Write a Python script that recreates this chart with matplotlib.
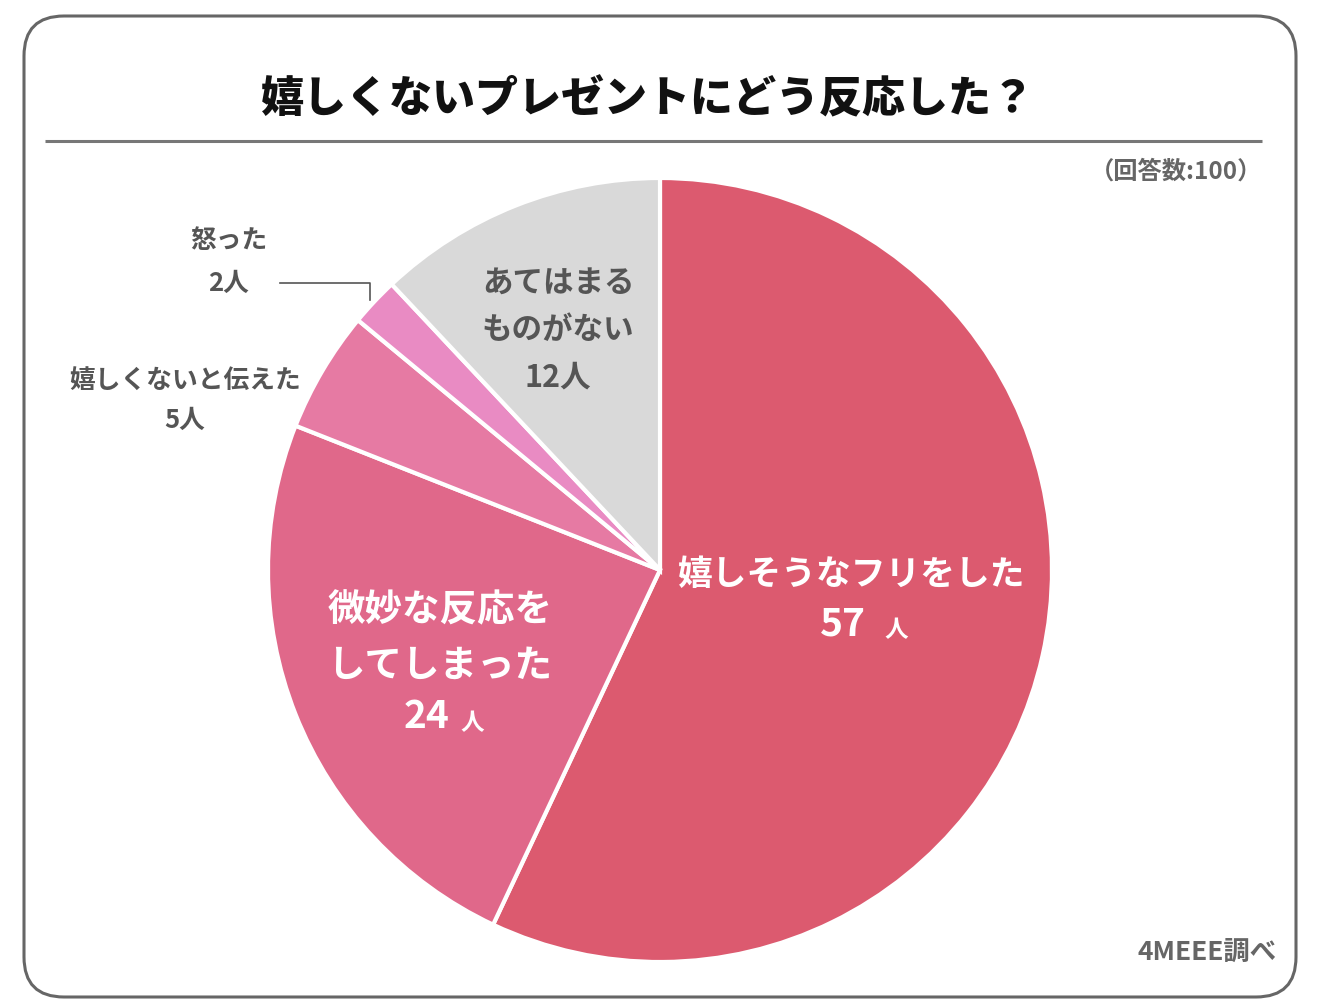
import matplotlib
matplotlib.use("Agg")
import matplotlib.pyplot as plt
from matplotlib.patches import FancyBboxPatch

plt.rcParams["font.family"] = ["Noto Sans CJK JP", "DejaVu Sans"]

# data
labels = ["嬉しそうなフリをした", "微妙な反応をしてしまった", "嬉しくないと伝えた", "怒った", "あてはまるものがない"]
counts = [57, 24, 5, 2, 12]
colors = ["#dc5a6f", "#e0688a", "#e67aa3", "#e98bc3", "#d9d9d9"]
title = "嬉しくないプレゼントにどう反応した？"
n_note = "（回答数:100）"
source = "4MEEE調べ"

W, H = 1320, 1000
fig = plt.figure(figsize=(W / 100, H / 100), dpi=100)
ax = fig.add_axes([0, 0, 1, 1])


def Y(y):
    # pixel-from-top to data y
    return H - y


# frame
box = FancyBboxPatch((24, Y(997)), 1272, 981, boxstyle="round,pad=0,rounding_size=40",
                     fc="white", ec="#666666", lw=2.2, zorder=0)
ax.add_patch(box)
ax.plot([45, 1262], [Y(141), Y(141)], color="#777777", lw=2.2, solid_capstyle="butt")

ax.text(648, Y(100), title, ha="center", va="center", fontsize=31, fontweight="heavy", color="#111111")
ax.text(1262, Y(172), n_note, ha="right", va="center", fontsize=17.5, fontweight="bold", color="#666666")
ax.text(1277, Y(953), source, ha="right", va="center", fontsize=19, fontweight="bold", color="#666666")

# pie
ax.pie(counts, colors=colors, startangle=90, counterclock=False,
       center=(660, Y(570)), radius=392, frame=True,
       wedgeprops=dict(edgecolor="white", linewidth=3))

# labels
ax.text(852, Y(575), labels[0], ha="center", va="center", fontsize=25, fontweight="bold", color="white")
ax.text(866, Y(624), f"{counts[0]}", ha="right", va="center", fontsize=28, fontweight="bold", color="white")
ax.text(884, Y(630), "人", ha="left", va="center", fontsize=17, fontweight="bold", color="white")

ax.text(440, Y(610), "微妙な反応を", ha="center", va="center", fontsize=27, fontweight="bold", color="white")
ax.text(440, Y(665), "してしまった", ha="center", va="center", fontsize=27, fontweight="bold", color="white")
ax.text(450, Y(717), f"{counts[1]}", ha="right", va="center", fontsize=28, fontweight="bold", color="white")
ax.text(460, Y(723), "人", ha="left", va="center", fontsize=17, fontweight="bold", color="white")

ax.text(558, Y(283), "あてはまる", ha="center", va="center", fontsize=22, fontweight="bold", color="#555555")
ax.text(558, Y(330), "ものがない", ha="center", va="center", fontsize=22, fontweight="bold", color="#555555")
ax.text(558, Y(378), f"{counts[4]}人", ha="center", va="center", fontsize=22, fontweight="bold", color="#555555")

ax.text(185, Y(380), labels[2], ha="center", va="center", fontsize=18.5, fontweight="bold", color="#555555")
ax.text(185, Y(420), f"{counts[2]}人", ha="center", va="center", fontsize=18.5, fontweight="bold", color="#555555")

ax.text(229, Y(241), labels[3], ha="center", va="center", fontsize=18.5, fontweight="bold", color="#555555")
ax.text(229, Y(283), f"{counts[3]}人", ha="center", va="center", fontsize=18.5, fontweight="bold", color="#555555")
ax.plot([280, 370, 370], [Y(283), Y(283), Y(300)], color="#555555", lw=1.2)

ax.set_xlim(0, W)
ax.set_ylim(0, H)
ax.set_aspect("auto")
ax.axis("off")

fig.savefig("out.png", dpi=100)
